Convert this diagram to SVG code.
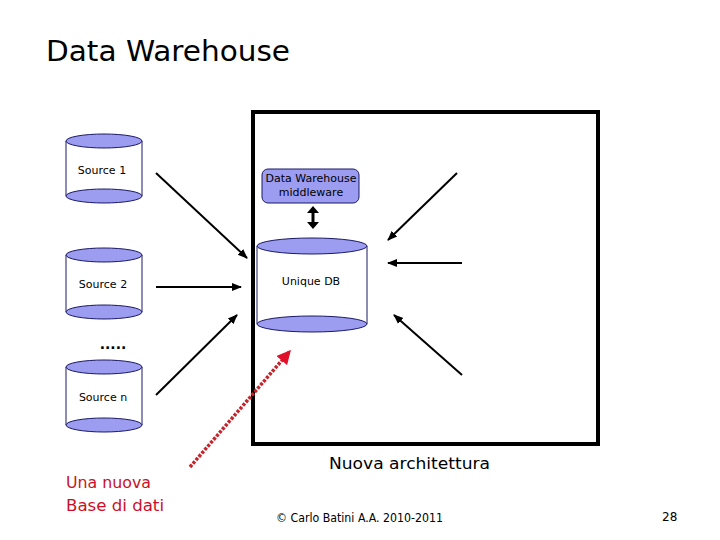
<svg xmlns="http://www.w3.org/2000/svg" width="720" height="540" viewBox="0 0 720 540">
<style>
.t{font-family:"DejaVu Sans","Liberation Sans",sans-serif;fill:#000}
.ell{fill:#9c9cf0;stroke:#1a1a66;stroke-width:1}
.side{stroke:#1a1a66;stroke-width:1;fill:none}
.ar{stroke:#000;stroke-width:2;fill:none;marker-end:url(#ah)}
</style>
<defs>
<marker id="ah" viewBox="0 0 10 10" refX="9" refY="5" markerWidth="5" markerHeight="5" orient="auto" markerUnits="strokeWidth"><path d="M0,1 L10,5 L0,9 Z" fill="#000"/></marker>
<marker id="ahr" viewBox="0 0 10 10" refX="9" refY="5" markerWidth="4" markerHeight="4" orient="auto" markerUnits="strokeWidth"><path d="M0,0 L10,5 L0,10 Z" fill="#e0102a"/></marker>
</defs>
<rect width="720" height="540" fill="#fff"/>
<text class="t" x="46" y="61" font-size="29" textLength="244" lengthAdjust="spacingAndGlyphs">Data Warehouse</text>

<g id="box"><rect x="253" y="112" width="345" height="332" fill="none" stroke="#000" stroke-width="4"/></g>

<g id="source1">
<rect x="66" y="141" width="76" height="55" fill="#fff"/>
<line class="side" x1="66" y1="141" x2="66" y2="196"/><line class="side" x1="142" y1="141" x2="142" y2="196"/>
<ellipse class="ell" cx="104" cy="196" rx="38" ry="7"/>
<ellipse class="ell" cx="104" cy="141" rx="38" ry="7"/>
<text class="t" x="102" y="174" font-size="11" text-anchor="middle">Source 1</text>
</g>
<g id="source2">
<rect x="66" y="255" width="76" height="57" fill="#fff"/>
<line class="side" x1="66" y1="255" x2="66" y2="312"/><line class="side" x1="142" y1="255" x2="142" y2="312"/>
<ellipse class="ell" cx="104" cy="312" rx="38" ry="7"/>
<ellipse class="ell" cx="104" cy="255" rx="38" ry="7"/>
<text class="t" x="103" y="288" font-size="11" text-anchor="middle">Source 2</text>
</g>
<text class="t" x="113" y="349" font-size="14" text-anchor="middle" font-weight="bold">.....</text>
<g id="sourcen">
<rect x="66" y="367" width="76" height="58" fill="#fff"/>
<line class="side" x1="66" y1="367" x2="66" y2="425"/><line class="side" x1="142" y1="367" x2="142" y2="425"/>
<ellipse class="ell" cx="104" cy="425" rx="38" ry="7"/>
<ellipse class="ell" cx="104" cy="367" rx="38" ry="7"/>
<text class="t" x="103" y="401" font-size="11" text-anchor="middle">Source n</text>
</g>

<g id="middleware">
<rect x="262" y="169" width="97" height="34" rx="6" fill="#9c9cf0" stroke="#1a1a66" stroke-width="1"/>
<text class="t" x="311" y="182" font-size="11" text-anchor="middle">Data Warehouse</text>
<text class="t" x="311" y="196" font-size="11" text-anchor="middle">middleware</text>
</g>
<g id="uniquedb">
<rect x="257" y="246" width="110" height="78" fill="#fff"/>
<line class="side" x1="257" y1="246" x2="257" y2="324"/><line class="side" x1="367" y1="246" x2="367" y2="324"/>
<ellipse class="ell" cx="312" cy="324" rx="55" ry="8"/>
<ellipse class="ell" cx="312" cy="246" rx="55" ry="8"/>
<text class="t" x="311" y="285" font-size="11" text-anchor="middle">Unique DB</text>
</g>

<g id="connectors">
<line x1="313" y1="210" x2="313" y2="225" stroke="#000" stroke-width="3"/>
<path d="M307,213 L313,206 L319,213 Z M307,222 L313,229 L319,222 Z" fill="#000"/>
<line class="ar" x1="156" y1="173" x2="247" y2="258"/>
<line class="ar" x1="156" y1="287" x2="241" y2="287"/>
<line class="ar" x1="156" y1="395" x2="237" y2="315"/>
<line class="ar" x1="457" y1="173" x2="388" y2="240"/>
<line class="ar" x1="462" y1="263" x2="388" y2="263"/>
<line class="ar" x1="462" y1="375" x2="394" y2="315"/>
<line x1="190" y1="467" x2="290" y2="351" stroke="#c4242c" stroke-width="3.5" stroke-dasharray="3 1.5" marker-end="url(#ahr)"/>
</g>

<text class="t" x="329" y="469" font-size="16" textLength="161" lengthAdjust="spacingAndGlyphs">Nuova architettura</text>
<text class="t" x="66" y="488" font-size="16" style="fill:#cc0f28" textLength="85" lengthAdjust="spacingAndGlyphs">Una nuova</text>
<text class="t" x="66" y="511" font-size="16" style="fill:#cc0f28" textLength="98" lengthAdjust="spacingAndGlyphs">Base di dati</text>
<text class="t" x="276" y="522" font-size="12" textLength="167" lengthAdjust="spacingAndGlyphs">© Carlo Batini A.A. 2010-2011</text>
<text class="t" x="662" y="521" font-size="12">28</text>
</svg>
